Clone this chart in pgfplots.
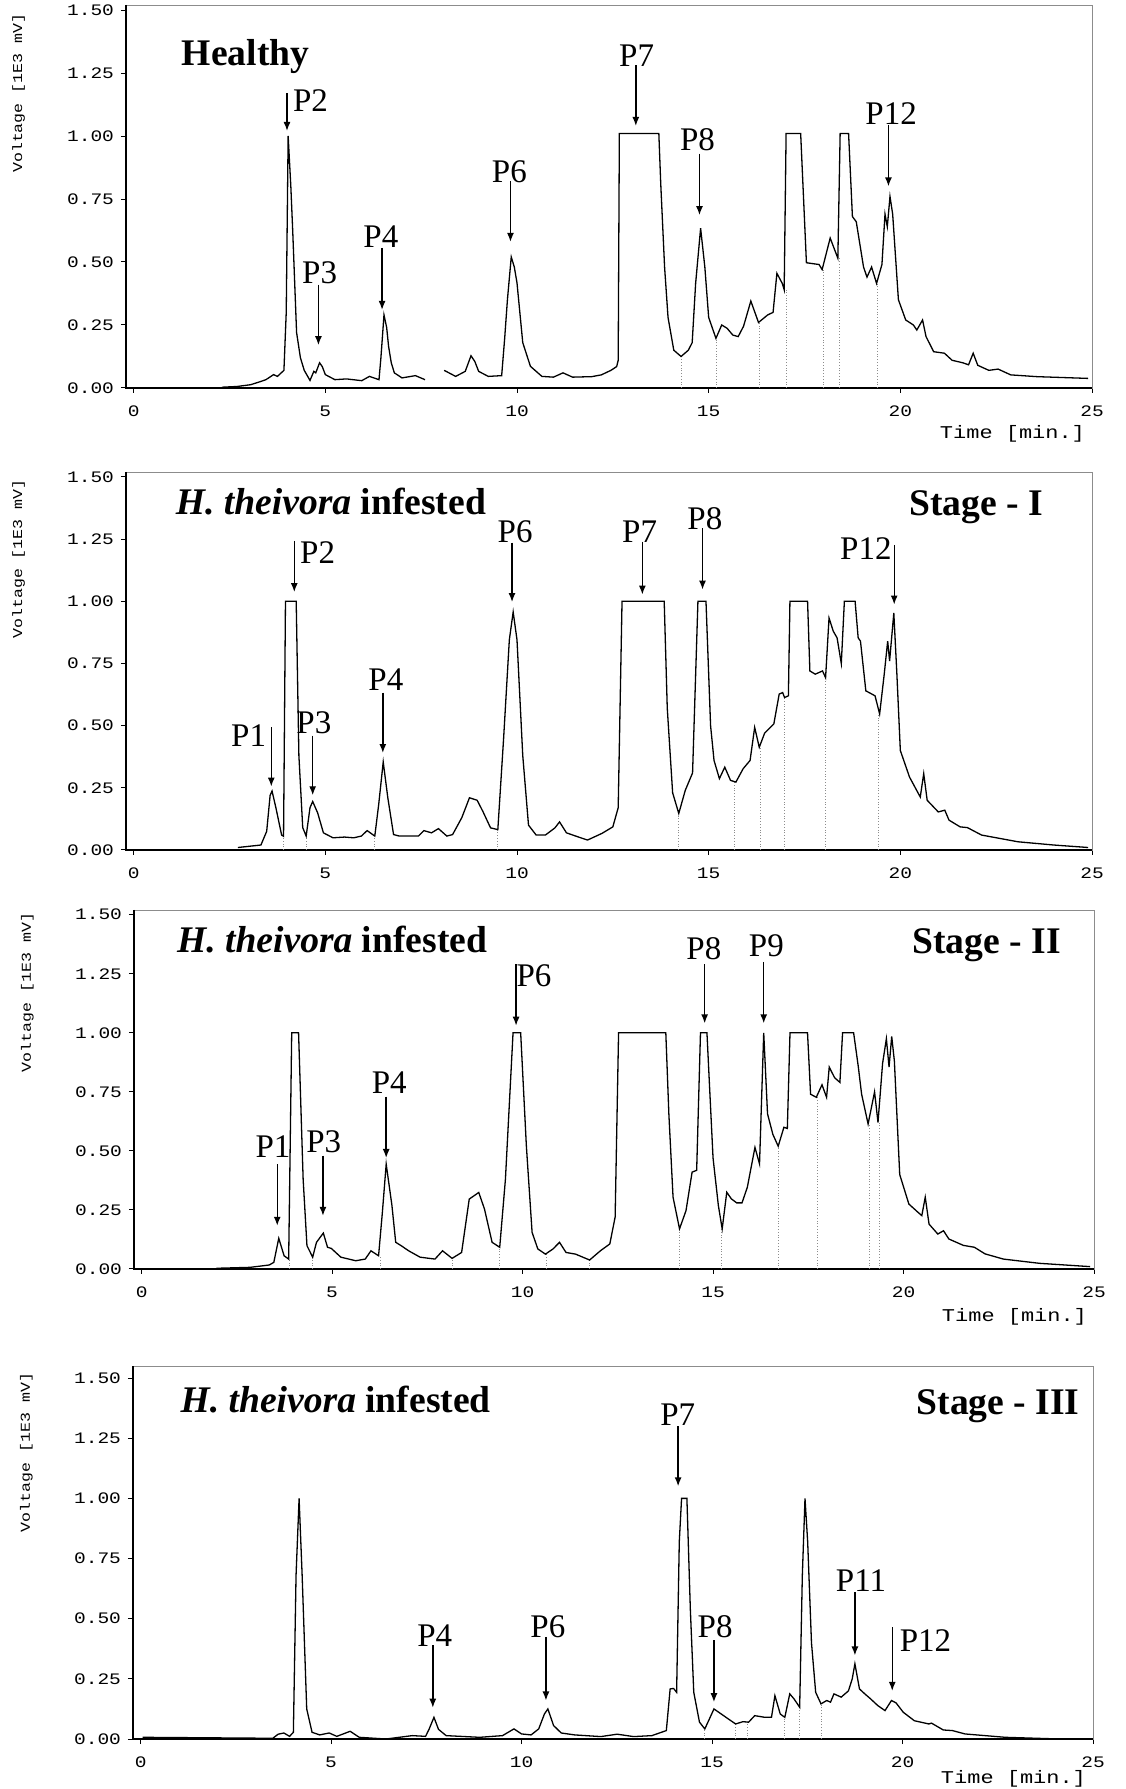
\documentclass[border=0pt]{standalone}
\usepackage{fontspec}
\setmainfont{Liberation Serif}
\newfontfamily\monofont{Liberation Mono}[FakeStretch=1.22]
\usepackage{pgfplots}
\pgfplotsset{compat=1.18}
\usetikzlibrary{arrows.meta}

\pgfplotsset{
  chrom/.style={
    scale only axis,
    anchor=south west,
    xmin=-0.2, xmax=25, ymin=0,
    xtick={0,5,10,15,20,25},
    ytick={0,0.25,0.5,0.75,1,1.25,1.5},
    /pgf/number format/assume math mode=true,
    yticklabel style={/pgf/number format/fixed,/pgf/number format/fixed zerofill,/pgf/number format/precision=2},
    xticklabel style={yshift=-3pt},
    tick label style={font=\fontsize{8}{8}\selectfont\monofont},
    tick pos=left,
    tick align=outside,
    major tick length=2.5pt,
    axis line style={draw=black!45, line width=0.4pt},
    major tick style={black, line width=0.5pt},
    clip=false,
  },
  trace/.style={black, line width=0.65pt, mark=none},
  drop/.style={ycomb, black!45, densely dotted, line width=0.4pt, mark=none},
}
\tikzset{
  plab/.style={font=\fontsize{16.5}{16.5}\selectfont, inner sep=0pt},
  ttl/.style={font=\fontsize{18.8}{18.8}\selectfont\bfseries, inner sep=0pt},
  arr/.style={-{Latex[length=4.5pt,width=3.5pt]}, line width=0.7pt},
  vlab/.style={rotate=90, font=\fontsize{6.8}{6.8}\selectfont\monofont},
  tlab/.style={anchor=north east, font=\fontsize{9}{9}\selectfont\monofont},
}
\newcommand{\frameBL}{\draw[black, line width=0.6pt] (rel axis cs:0,1) -- (rel axis cs:0,0) -- (rel axis cs:1,0);}

\begin{document}
\begin{tikzpicture}
\useasboundingbox (0,0) rectangle (562.5pt,894.5pt);

% ---------------- Healthy ----------------
\begin{axis}[chrom, at={(63pt,700.5pt)}, width=483pt, height=191.5pt, ymax=1.52]
\frameBL
\addplot[drop] coordinates {(14.28,0.125) (15.19,0.197) (16.32,0.26) (17.02,0.39) (17.98,0.47) (18.40,0.515) (19.40,0.415)};
\addplot[trace] coordinates {(2.3,0.003) (2.7,0.006) (3.05,0.013) (3.3,0.025) (3.45,0.033) (3.65,0.053) (3.75,0.046) (3.92,0.07) (3.98,0.3) (4.03,1.0) (4.1,0.8) (4.15,0.62) (4.25,0.22) (4.35,0.12) (4.45,0.07) (4.6,0.03) (4.7,0.066) (4.75,0.06) (4.85,0.1) (4.92,0.085) (5.0,0.053) (5.25,0.033) (5.55,0.036) (5.95,0.029) (6.15,0.046) (6.4,0.033) (6.45,0.12) (6.53,0.29) (6.6,0.24) (6.65,0.165) (6.72,0.1) (6.8,0.06) (7.0,0.04) (7.35,0.049) (7.6,0.033)};
\addplot[trace] coordinates {(8.1,0.07) (8.4,0.046) (8.65,0.066) (8.8,0.128) (8.9,0.105) (9.0,0.066) (9.25,0.046) (9.6,0.049) (9.68,0.2) (9.75,0.35) (9.85,0.52) (9.93,0.48) (10.0,0.417) (10.15,0.18) (10.35,0.086) (10.65,0.046) (10.95,0.043) (11.2,0.06) (11.45,0.043) (11.95,0.045) (12.2,0.052) (12.45,0.07) (12.6,0.085) (12.64,0.11) (12.67,1.01) (13.7,1.01) (13.75,0.81) (13.85,0.48) (13.94,0.28) (14.09,0.15) (14.28,0.125) (14.47,0.15) (14.57,0.18) (14.66,0.415) (14.79,0.634) (14.9,0.48) (15.0,0.28) (15.19,0.197) (15.34,0.25) (15.48,0.237) (15.63,0.21) (15.77,0.204) (15.91,0.245) (16.1,0.345) (16.3,0.26) (16.54,0.29) (16.68,0.3) (16.78,0.455) (16.92,0.415) (16.97,0.39) (17.02,1.01) (17.4,1.01) (17.55,0.497) (17.88,0.49) (17.96,0.47) (18.17,0.595) (18.37,0.515) (18.43,1.01) (18.65,1.01) (18.75,0.68) (18.85,0.66) (19.04,0.48) (19.13,0.44) (19.25,0.48) (19.38,0.415) (19.52,0.49) (19.6,0.69) (19.66,0.64) (19.73,0.76) (19.8,0.69) (19.95,0.35) (20.14,0.27) (20.34,0.25) (20.43,0.23) (20.58,0.27) (20.67,0.204) (20.87,0.144) (21.15,0.138) (21.35,0.11) (21.63,0.1) (21.78,0.092) (21.9,0.138) (22.02,0.09) (22.31,0.07) (22.55,0.075) (22.88,0.052) (23.56,0.045) (24.9,0.038)};
\node[vlab] at (axis cs:-3.0,1.17) {Voltage [1E3 mV]};
\node[tlab, yshift=-15pt] at (axis cs:25,0) {Time [min.]};
\node[ttl, anchor=base west] at (axis cs:1.25,1.28) {Healthy};
\draw[arr] (axis cs:4.0,1.17) -- (axis cs:4.0,1.02);
\node[plab, anchor=west] at (axis cs:4.15,1.14) {P2};
\draw[arr] (axis cs:4.82,0.41) -- (axis cs:4.82,0.17);
\node[plab] at (axis cs:4.85,0.457) {P3};
\draw[arr] (axis cs:6.48,0.556) -- (axis cs:6.48,0.31);
\node[plab] at (axis cs:6.45,0.60) {P4};
\draw[arr] (axis cs:9.83,0.82) -- (axis cs:9.83,0.58);
\node[plab] at (axis cs:9.8,0.86) {P6};
\draw[arr] (axis cs:13.1,1.28) -- (axis cs:13.1,1.04);
\node[plab] at (axis cs:13.12,1.32) {P7};
\draw[arr] (axis cs:14.76,0.93) -- (axis cs:14.76,0.686);
\node[plab] at (axis cs:14.71,0.987) {P8};
\draw[arr] (axis cs:19.69,1.044) -- (axis cs:19.69,0.8);
\node[plab] at (axis cs:19.76,1.09) {P12};
\end{axis}

% ---------------- Stage I ----------------
\begin{axis}[chrom, at={(63pt,469.5pt)}, width=483pt, height=189pt, ymax=1.52]
\frameBL
\addplot[drop] coordinates {(3.91,0.055) (4.5,0.056) (6.29,0.056) (9.5,0.082) (14.22,0.147) (15.66,0.275) (16.35,0.41) (16.98,0.613) (18.05,0.693) (19.43,0.547)};
\addplot[trace] coordinates {(2.72,0.01) (3.32,0.02) (3.47,0.075) (3.56,0.22) (3.61,0.237) (3.71,0.17) (3.86,0.06) (3.91,0.055) (3.96,1.0) (4.24,1.0) (4.31,0.38) (4.41,0.09) (4.5,0.056) (4.6,0.17) (4.67,0.195) (4.8,0.149) (4.95,0.069) (5.2,0.049) (5.5,0.052) (5.74,0.049) (5.94,0.056) (6.09,0.078) (6.29,0.056) (6.39,0.18) (6.51,0.354) (6.63,0.21) (6.78,0.062) (6.93,0.056) (7.43,0.056) (7.57,0.078) (7.77,0.069) (7.95,0.086) (8.17,0.056) (8.32,0.062) (8.56,0.13) (8.76,0.21) (8.96,0.2) (9.11,0.155) (9.31,0.089) (9.5,0.082) (9.65,0.447) (9.8,0.845) (9.9,0.957) (10.0,0.845) (10.15,0.38) (10.3,0.1) (10.5,0.06) (10.74,0.06) (10.99,0.089) (11.11,0.113) (11.29,0.069) (11.53,0.056) (11.84,0.04) (12.22,0.067) (12.5,0.093) (12.64,0.17) (12.74,1.0) (13.84,1.0) (13.92,0.57) (14.06,0.23) (14.22,0.147) (14.39,0.24) (14.58,0.31) (14.72,1.0) (14.93,1.0) (15.05,0.5) (15.14,0.36) (15.28,0.287) (15.42,0.333) (15.57,0.28) (15.71,0.273) (15.9,0.327) (16.08,0.36) (16.2,0.493) (16.32,0.413) (16.46,0.47) (16.7,0.507) (16.84,0.627) (16.93,0.633) (16.98,0.613) (17.08,0.62) (17.12,1.0) (17.58,1.0) (17.64,0.72) (17.78,0.707) (17.97,0.72) (18.05,0.693) (18.14,0.933) (18.25,0.88) (18.35,0.853) (18.46,0.75) (18.54,1.0) (18.82,1.0) (18.9,0.853) (18.96,0.84) (19.1,0.64) (19.34,0.62) (19.46,0.547) (19.58,0.707) (19.67,0.84) (19.72,0.76) (19.83,0.953) (19.91,0.707) (20.0,0.4) (20.24,0.293) (20.52,0.213) (20.61,0.307) (20.7,0.2) (20.99,0.153) (21.16,0.16) (21.27,0.12) (21.56,0.093) (21.75,0.09) (22.12,0.06) (23.07,0.033) (24.0,0.02) (24.9,0.01)};
\node[vlab] at (axis cs:-3.0,1.17) {Voltage [1E3 mV]};
\node[ttl, anchor=base west] at (axis cs:1.09,1.349) {\textit{H. theivora} infested};
\node[ttl, anchor=base east] at (axis cs:23.73,1.347) {Stage - I};
\draw[arr] (axis cs:3.59,0.493) -- (axis cs:3.59,0.255);
\node[plab] at (axis cs:3.0,0.46) {P1};
\draw[arr] (axis cs:4.19,1.243) -- (axis cs:4.19,1.037);
\node[plab] at (axis cs:4.8,1.196) {P2};
\draw[arr] (axis cs:4.67,0.46) -- (axis cs:4.67,0.22);
\node[plab] at (axis cs:4.7,0.513) {P3};
\draw[arr] (axis cs:6.5,0.633) -- (axis cs:6.5,0.39);
\node[plab] at (axis cs:6.58,0.686) {P4};
\draw[arr] (axis cs:9.87,1.236) -- (axis cs:9.87,0.997);
\node[plab] at (axis cs:9.95,1.28) {P6};
\draw[arr] (axis cs:13.27,1.24) -- (axis cs:13.27,1.027);
\node[plab] at (axis cs:13.2,1.28) {P7};
\draw[arr] (axis cs:14.84,1.293) -- (axis cs:14.84,1.047);
\node[plab] at (axis cs:14.9,1.333) {P8};
\draw[arr] (axis cs:19.84,1.227) -- (axis cs:19.84,0.987);
\node[plab] at (axis cs:19.1,1.213) {P12};
\end{axis}

% ---------------- Stage II ----------------
\begin{axis}[chrom, at={(67pt,260pt)}, width=480pt, height=179.5pt, ymax=1.52]
\frameBL
\addplot[drop] coordinates {(3.87,0.042) (4.49,0.05) (6.26,0.056) (8.15,0.045) (9.4,0.092) (10.63,0.063) (11.76,0.038) (14.12,0.17) (15.22,0.17) (16.71,0.52) (17.74,0.727) (19.1,0.614) (19.36,0.62)};
\addplot[trace] coordinates {(1.96,0.003) (2.85,0.007) (3.35,0.017) (3.47,0.028) (3.6,0.13) (3.74,0.056) (3.86,0.042) (3.94,1.0) (4.12,1.0) (4.24,0.38) (4.34,0.099) (4.49,0.05) (4.59,0.113) (4.77,0.152) (4.88,0.092) (4.98,0.087) (5.23,0.05) (5.62,0.035) (5.87,0.042) (6.02,0.077) (6.22,0.056) (6.32,0.24) (6.42,0.444) (6.57,0.27) (6.67,0.113) (6.81,0.099) (7.01,0.077) (7.31,0.05) (7.7,0.042) (7.9,0.077) (8.15,0.045) (8.4,0.07) (8.6,0.296) (8.85,0.324) (9.0,0.254) (9.2,0.113) (9.4,0.092) (9.55,0.38) (9.75,1.0) (9.95,1.0) (10.1,0.52) (10.25,0.155) (10.4,0.085) (10.6,0.063) (10.8,0.085) (10.97,0.113) (11.14,0.07) (11.39,0.063) (11.76,0.038) (12.05,0.078) (12.29,0.106) (12.43,0.22) (12.52,1.0) (13.76,1.0) (13.84,0.657) (13.95,0.304) (14.12,0.17) (14.29,0.247) (14.45,0.41) (14.57,0.418) (14.67,1.0) (14.84,1.0) (14.9,0.8) (15.0,0.47) (15.14,0.268) (15.24,0.17) (15.36,0.325) (15.48,0.297) (15.62,0.28) (15.76,0.28) (15.9,0.346) (16.1,0.515) (16.22,0.445) (16.33,1.0) (16.43,0.657) (16.57,0.57) (16.71,0.52) (16.86,0.6) (16.95,0.595) (17.02,1.0) (17.48,1.0) (17.56,0.74) (17.71,0.727) (17.86,0.78) (17.98,0.727) (18.05,0.855) (18.19,0.81) (18.33,0.79) (18.4,1.0) (18.69,1.0) (18.81,0.86) (18.9,0.74) (19.07,0.614) (19.24,0.75) (19.33,0.62) (19.45,0.87) (19.55,0.975) (19.62,0.855) (19.69,0.985) (19.76,0.88) (19.9,0.4) (20.14,0.275) (20.38,0.24) (20.48,0.226) (20.57,0.304) (20.67,0.19) (20.9,0.148) (21.05,0.162) (21.19,0.127) (21.57,0.1) (21.86,0.092) (22.14,0.064) (22.62,0.042) (23.57,0.024) (24.9,0.01)};
\node[vlab] at (axis cs:-3.0,1.17) {Voltage [1E3 mV]};
\node[tlab, yshift=-16pt] at (axis cs:25,0) {Time [min.]};
\node[ttl, anchor=base west] at (axis cs:0.92,1.338) {\textit{H. theivora} infested};
\node[ttl, anchor=base east] at (axis cs:24.14,1.335) {Stage - II};
\draw[arr] (axis cs:3.56,0.444) -- (axis cs:3.56,0.183);
\node[plab] at (axis cs:3.45,0.52) {P1};
\draw[arr] (axis cs:4.76,0.48) -- (axis cs:4.76,0.225);
\node[plab] at (axis cs:4.78,0.54) {P3};
\draw[arr] (axis cs:6.42,0.73) -- (axis cs:6.42,0.47);
\node[plab] at (axis cs:6.5,0.79) {P4};
\draw[arr] (axis cs:9.83,1.29) -- (axis cs:9.83,1.03);
\node[plab] at (axis cs:10.3,1.24) {P6};
\draw[arr] (axis cs:14.78,1.29) -- (axis cs:14.78,1.04);
\node[plab] at (axis cs:14.76,1.356) {P8};
\draw[arr] (axis cs:16.33,1.3) -- (axis cs:16.33,1.04);
\node[plab] at (axis cs:16.4,1.37) {P9};
\end{axis}

% ---------------- Stage III ----------------
\begin{axis}[chrom, at={(66.5pt,25pt)}, width=480pt, height=186.5pt, ymax=1.55]
\frameBL
\addplot[drop] coordinates {(14.8,0.042) (15.62,0.0625) (15.93,0.07) (16.91,0.09) (17.3,0.132) (17.86,0.146)};
\addplot[trace] coordinates {(0.05,0.007) (3.47,0.003) (3.61,0.02) (3.76,0.025) (3.91,0.011) (4.01,0.028) (4.08,0.68) (4.16,1.0) (4.24,0.68) (4.36,0.125) (4.5,0.028) (4.7,0.017) (4.95,0.025) (5.15,0.011) (5.5,0.032) (5.74,0.007) (6.44,0.0) (7.13,0.014) (7.48,0.011) (7.57,0.04) (7.7,0.09) (7.82,0.04) (8.02,0.014) (8.9,0.007) (9.5,0.014) (9.8,0.042) (10.0,0.021) (10.25,0.017) (10.45,0.042) (10.6,0.104) (10.69,0.125) (10.84,0.056) (11.04,0.025) (11.39,0.017) (12.08,0.01) (12.51,0.02) (12.94,0.01) (13.42,0.014) (13.8,0.035) (13.9,0.208) (13.99,0.21) (14.07,0.194) (14.14,0.82) (14.2,1.0) (14.34,1.0) (14.43,0.54) (14.52,0.194) (14.67,0.07) (14.81,0.042) (14.95,0.09) (15.05,0.125) (15.24,0.104) (15.43,0.083) (15.62,0.0625) (15.81,0.072) (15.96,0.07) (16.12,0.097) (16.39,0.09) (16.56,0.09) (16.65,0.18) (16.79,0.104) (16.91,0.09) (17.04,0.1875) (17.15,0.167) (17.3,0.132) (17.37,0.68) (17.44,1.0) (17.51,0.82) (17.61,0.4) (17.72,0.194) (17.86,0.146) (18.01,0.16) (18.11,0.153) (18.2,0.1875) (18.39,0.174) (18.58,0.2) (18.68,0.25) (18.75,0.3125) (18.87,0.208) (19.01,0.1875) (19.16,0.167) (19.35,0.139) (19.54,0.118) (19.71,0.16) (19.83,0.15) (20.02,0.111) (20.31,0.076) (20.69,0.0625) (20.76,0.066) (21.07,0.0375) (21.31,0.035) (21.64,0.021) (22.7,0.007) (24.13,0.0) (24.9,0.0)};
\node[vlab] at (axis cs:-3.0,1.19) {Voltage [1E3 mV]};
\node[tlab, yshift=-12pt] at (axis cs:25,0) {Time [min.]};
\node[ttl, anchor=base west] at (axis cs:1.04,1.357) {\textit{H. theivora} infested};
\node[ttl, anchor=base east] at (axis cs:24.66,1.347) {Stage - III};
\draw[arr] (axis cs:7.67,0.39) -- (axis cs:7.67,0.13);
\node[plab] at (axis cs:7.72,0.43) {P4};
\draw[arr] (axis cs:10.64,0.424) -- (axis cs:10.64,0.16);
\node[plab] at (axis cs:10.69,0.465) {P6};
\draw[arr] (axis cs:14.11,1.3) -- (axis cs:14.11,1.05);
\node[plab] at (axis cs:14.1,1.347) {P7};
\draw[arr] (axis cs:15.05,0.41) -- (axis cs:15.05,0.153);
\node[plab] at (axis cs:15.08,0.465) {P8};
\draw[arr] (axis cs:18.75,0.61) -- (axis cs:18.75,0.347);
\node[plab] at (axis cs:18.91,0.66) {P11};
\draw[arr] (axis cs:19.73,0.465) -- (axis cs:19.73,0.2);
\node[plab, anchor=west] at (axis cs:19.92,0.41) {P12};
\end{axis}
\end{tikzpicture}
\end{document}
